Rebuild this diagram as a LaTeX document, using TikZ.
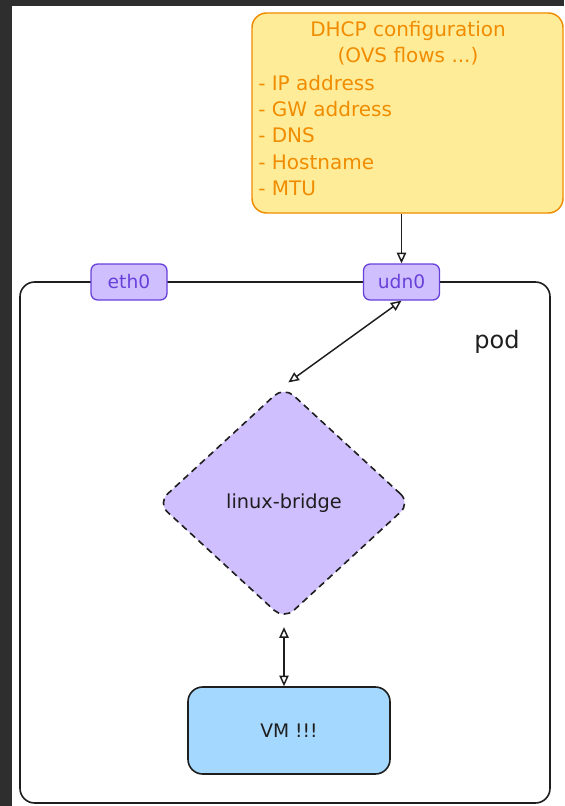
\documentclass[tikz,border=0pt]{standalone}
\usepackage{fontspec}
\setmainfont{DejaVu Sans}
\usepackage{xcolor}
\usetikzlibrary{arrows.meta,shapes.geometric,positioning}

\definecolor{dhcpfill}{HTML}{FFEC99}
\definecolor{dhcporange}{HTML}{F08C00}
\definecolor{ifacefill}{HTML}{D0BFFF}
\definecolor{ifaceline}{HTML}{6741D9}
\definecolor{vmfill}{HTML}{A5D8FF}
\definecolor{inkblack}{HTML}{1E1E1E}
\definecolor{darkbg}{HTML}{2E2E2E}

\tikzset{
  iface/.style={draw=ifaceline, fill=ifacefill, rounded corners=5pt, line width=1pt,
    text=ifaceline, minimum width=57pt, minimum height=27pt, inner sep=0pt,
    font=\fontsize{14}{16}\selectfont},
  link/.style={draw=inkblack, line width=1.1pt, {Triangle[open,length=8pt,width=7pt]}-{Triangle[open,length=8pt,width=7pt]}},
  onelink/.style={draw=inkblack, line width=1.1pt, -{Triangle[open,length=8pt,width=7pt]}},
}

\begin{document}
\begin{tikzpicture}[x=0.75pt,y=0.75pt,yscale=-1,xscale=1]
  % background and canvas
  \fill[darkbg] (0,0) rectangle (564,806);
  \useasboundingbox (0,0) rectangle (564,806);
  \fill[white] (12,6) rectangle (564,806);

  % pod container
  \node (pod) [draw=inkblack, line width=1.2pt, rounded corners=11pt, minimum width=397.5pt, minimum height=390.75pt] at (285,542.5) {};
  \node (podlabel) [anchor=center, inner sep=0pt, text=inkblack, font=\fontsize{18}{20}\selectfont] at (497,342) {pod};

  % DHCP box
  \node (dhcp) [draw=dhcporange, fill=dhcpfill, line width=1.1pt, rounded corners=11pt, minimum width=233.25pt, minimum height=150pt] at (407.5,113) {};
  % Text Node
  \node (dhcptitle) [anchor=center, inner sep=0pt, align=center, text=dhcporange, font=\fontsize{15}{19.7}\selectfont] at (408,43) {DHCP configuration\\(OVS flows ...)};
  \node (dhcplist) [anchor=west, inner sep=0pt, align=left, text=dhcporange, font=\fontsize{15}{19.7}\selectfont] at (258,135.5) {- IP address\\- GW address\\- DNS\\- Hostname\\- MTU};

  % interfaces on the pod edge
  \node (eth0) [iface] at (129,282) {eth0};
  \node (udn0) [iface] at (401.5,282) {udn0};

  % bridge and VM
  \node (bridge) [diamond, draw=inkblack, fill=ifacefill, line width=1.2pt, dash pattern=on 5pt off 3.5pt, rounded corners=10pt, minimum width=190pt, minimum height=175pt, inner sep=0pt, text=inkblack, font=\fontsize{14.5}{16}\selectfont] at (284,503) {linux-bridge};
  \node (vm) [draw=inkblack, fill=vmfill, line width=1.2pt, rounded corners=11pt, minimum width=151.5pt, minimum height=65.25pt, text=inkblack, font=\fontsize{14}{16}\selectfont] at (289,730.5) {VM !!!};

  % connectors
  \draw [onelink] (dhcp.south -| udn0.north) -- (udn0.north);
  \draw [link, shorten >=4pt] (udn0.south) -- (bridge.north);
  \draw [link, shorten <=5pt] (bridge.south) -- (bridge.south |- vm.north);

\end{tikzpicture}
\end{document}
